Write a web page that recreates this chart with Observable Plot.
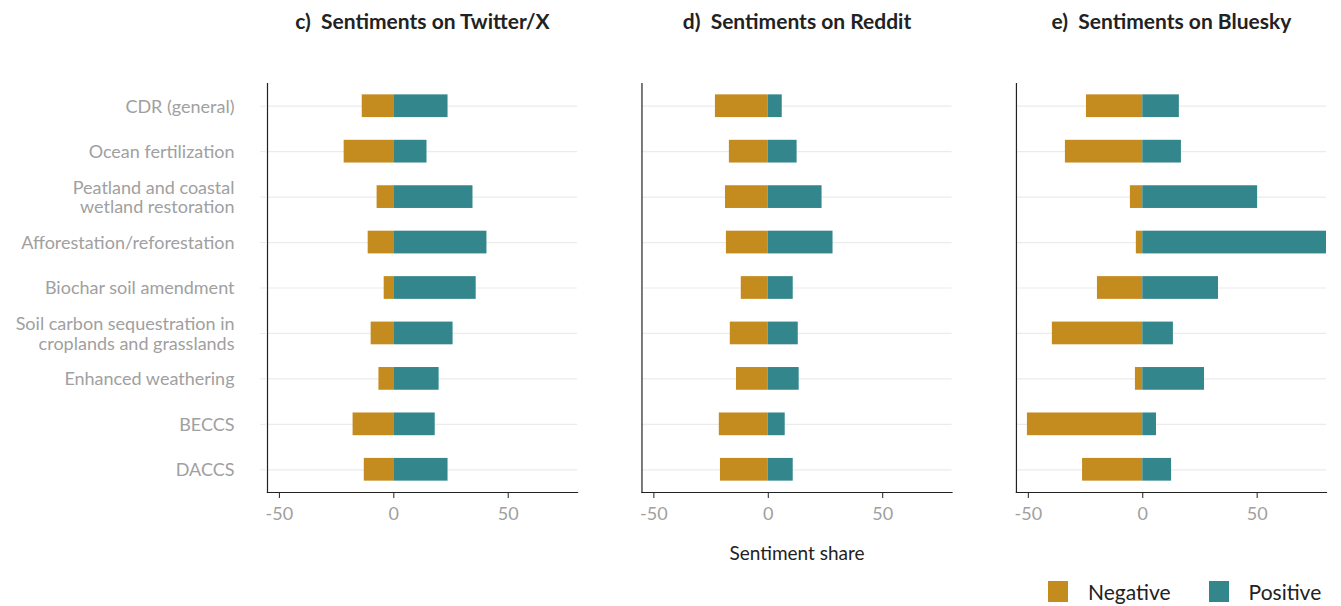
<!DOCTYPE html>
<html>
<head>
<meta charset="utf-8">
<script src="https://cdn.jsdelivr.net/npm/d3@7"></script>
<script src="https://cdn.jsdelivr.net/npm/@observablehq/plot@0.6"></script>
<style>
  body { margin: 0; background: #fff; font-family: Lato, "Open Sans", sans-serif; }
  #wrap { position: relative; width: 1341px; height: 606px; }
  #legend { position: absolute; left: 1048px; top: 579px; display: flex; align-items: center; font-size: 21px; color: #222; }
  .sw { width: 20px; height: 21px; display: inline-block; margin-right: 20px; }
  .item { display: flex; align-items: center; margin-right: 38px; }
</style>
</head>
<body>
<div id="wrap"><div id="chart"></div><div id="legend"></div></div>
<script>
const categories = [
  "CDR (general)",
  "Ocean fertilization",
  "Peatland and coastal\nwetland restoration",
  "Afforestation/reforestation",
  "Biochar soil amendment",
  "Soil carbon sequestration in\ncroplands and grasslands",
  "Enhanced weathering",
  "BECCS",
  "DACCS"
];
const platforms = ["Twitter/X", "Reddit", "Bluesky"];
const titles = ["c)  Sentiments on Twitter/X", "d)  Sentiments on Reddit", "e)  Sentiments on Bluesky"];
const sentiments = ["Negative", "Positive"];
const colors = ["#C48B1F", "#33878C"];
const xTicks = [-50, 0, 50];

const twitterNeg = [-13.8, -21.7, -7.3, -11.2, -4.2, -9.9, -6.5, -17.8, -12.9];
const twitterPos = [23.7, 14.5, 34.6, 40.7, 36.0, 25.9, 19.8, 18.1, 23.7];
const redditNeg  = [-23.1, -17.0, -18.7, -18.3, -11.8, -16.6, -13.9, -21.4, -20.9];
const redditPos  = [6.1, 12.6, 23.5, 28.3, 10.9, 13.1, 13.5, 7.4, 10.9];
const blueskyNeg = [-24.6, -33.8, -5.4, -2.8, -19.8, -39.5, -3.2, -50.4, -26.3];
const blueskyPos = [16.0, 16.9, 50.2, 80.3, 33.1, 13.4, 27.0, 6.0, 12.6];

const series = [
  ["Twitter/X", twitterNeg, twitterPos],
  ["Reddit", redditNeg, redditPos],
  ["Bluesky", blueskyNeg, blueskyPos]
];
const rows = [];
for (const [p, neg, pos] of series) {
  categories.forEach((c, i) => {
    rows.push({platform: p, category: c, sentiment: "Negative", value: neg[i]});
    rows.push({platform: p, category: c, sentiment: "Positive", value: pos[i]});
  });
}

const chart = Plot.plot({
  width: 1341,
  height: 572,
  marginLeft: 267,
  marginRight: 15,
  marginTop: 83,
  marginBottom: 80,
  style: {fontFamily: "Lato, 'Open Sans', sans-serif", fontSize: "16px", background: "#fff"},
  fx: {domain: platforms, axis: null, paddingInner: 0.172, paddingOuter: 0, round: false},
  x: {domain: [-55.2, 80.3], label: null},
  y: {domain: categories, paddingInner: 0.5, paddingOuter: 0.25, round: false, label: null},
  color: {domain: sentiments, range: colors},
  marks: [
    Plot.gridY(categories, {y: d => d, stroke: "#ebebeb", strokeOpacity: 1, strokeWidth: 1.2}),
    Plot.barX(rows, {fx: "platform", y: "category", x1: 0, x2: "value", fill: "sentiment"}),
    Plot.frame({anchor: "left", stroke: "#222", strokeWidth: 1.2}),
    Plot.frame({anchor: "bottom", stroke: "#222", strokeWidth: 1.2}),
    Plot.axisY({tickSize: 7, tickPadding: 26, stroke: "#ebebeb", fill: "#a0a0a0", fontSize: 18, lineHeight: 1.1, label: null}),
    Plot.axisX({ticks: xTicks, tickSize: 6, tickPadding: 9, tickFormat: d => String(d), stroke: "#222", fill: "#a0a0a0", fontSize: 18, label: null}),
    Plot.text(platforms, {fx: d => d, text: (d, i) => titles[i], frameAnchor: "top", lineAnchor: "middle", dy: -61, fontSize: 21, fontWeight: "bold", fill: "#222"}),
    Plot.text(["Sentiment share"], {fx: () => "Reddit", text: d => d, frameAnchor: "bottom", lineAnchor: "middle", dy: 61, fontSize: 19, fill: "#222"})
  ]
});
document.getElementById("chart").appendChild(chart);

const legend = document.getElementById("legend");
sentiments.forEach((s, i) => {
  const item = document.createElement("div");
  item.className = "item";
  const sw = document.createElement("span");
  sw.className = "sw";
  sw.style.background = colors[i];
  item.appendChild(sw);
  const t = document.createElement("span");
  t.textContent = s;
  item.appendChild(t);
  legend.appendChild(item);
});
</script>
</body>
</html>
